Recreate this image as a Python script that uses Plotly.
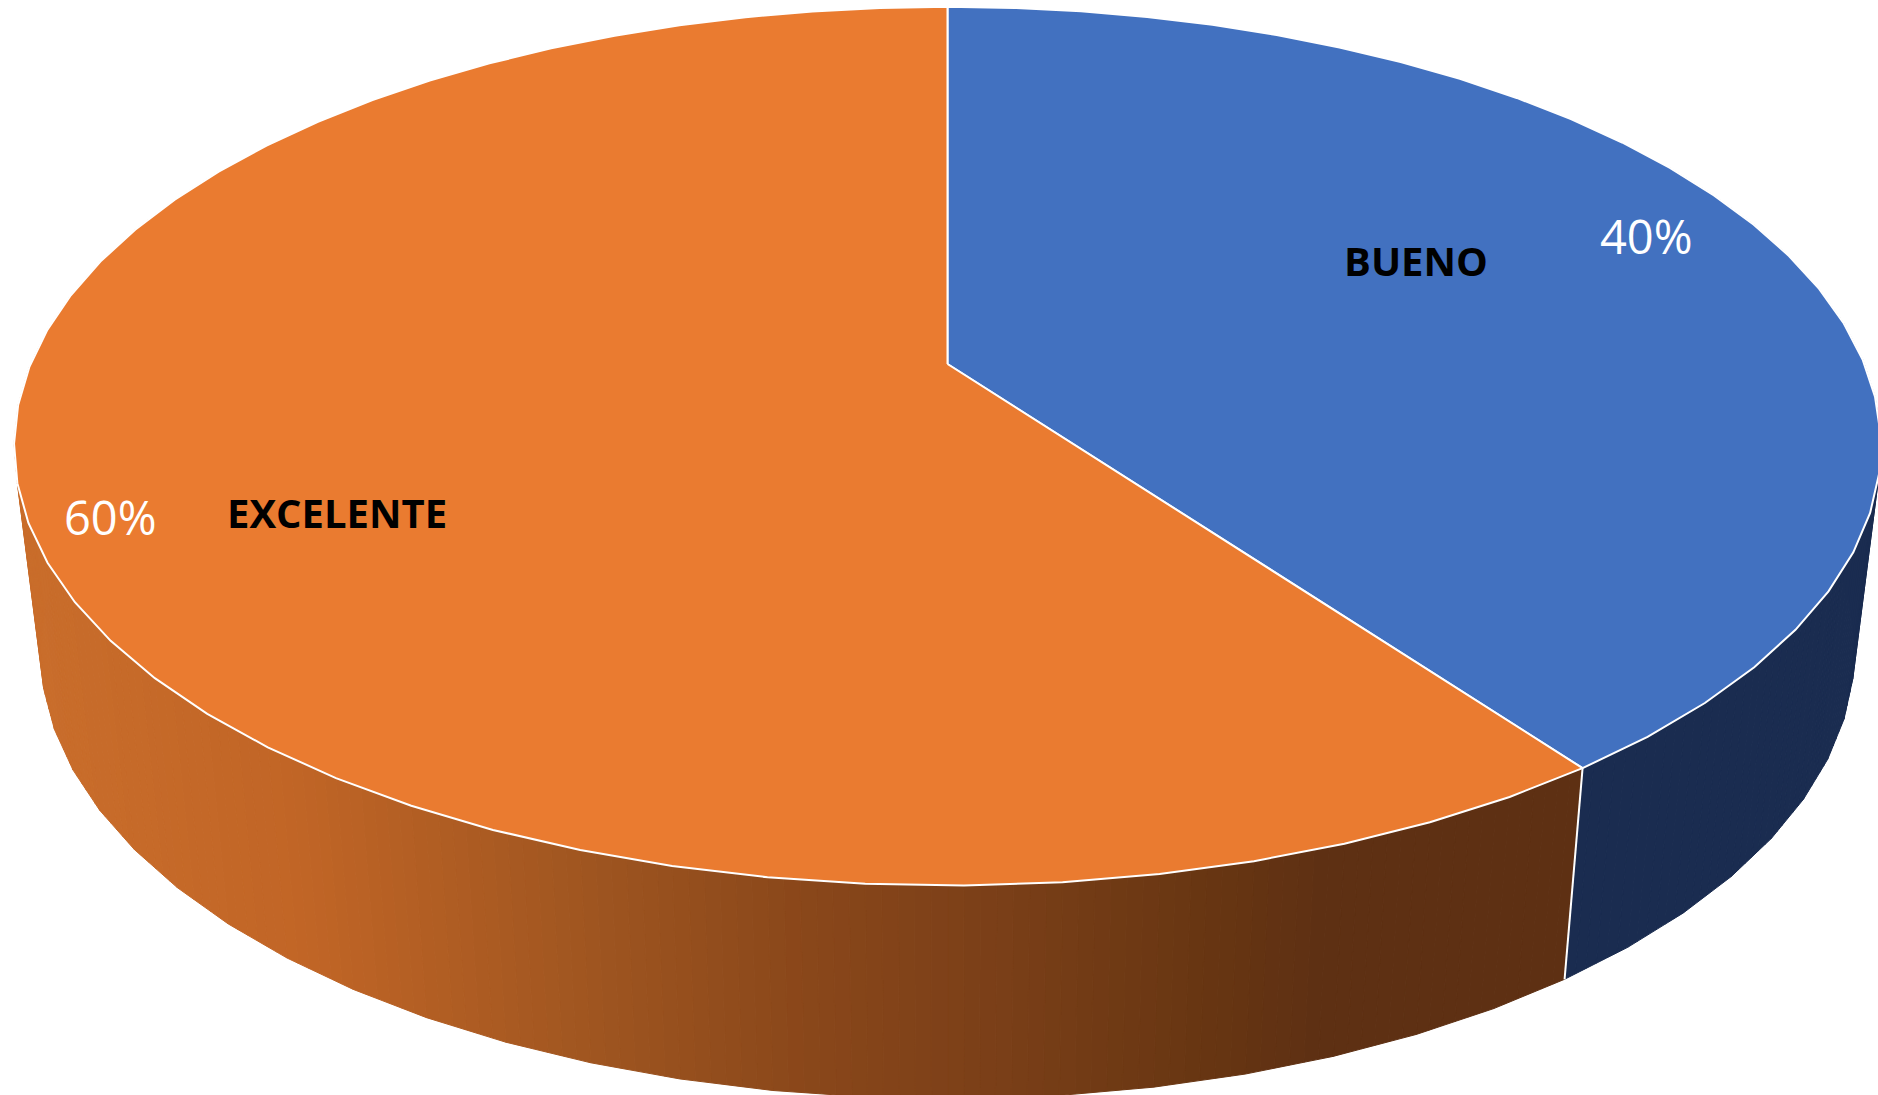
import numpy as np
import plotly.graph_objects as go

# ---- data ----
categories = ["EXCELENTE", "BUENO"]
values = [60, 40]
percent_labels = ["60%", "40%"]

# ---- style / camera ----
W, H = 1878, 1095
CX = 947.5
TOP = dict(A=917.0, B=424.0, y0=364.0)
BOT = dict(A=891.0, B=432.0, y0=567.5)
K = 0.187
FACET = 5.0
TOP_COLORS = {"EXCELENTE": "#EA7B30", "BUENO": "#4271C0"}
NAVY = "#1A2C50"
STOPS_X = [30, 300, 600, 800, 1000, 1200, 1320, 1600]
STOPS_C = [(201, 109, 43), (193, 101, 38), (158, 85, 32), (138, 71, 26), (122, 63, 24),
           (104, 54, 18), (94, 48, 19), (94, 48, 19)]
LABEL_POS = {"EXCELENTE": (337, 512.5), "BUENO": (1415.5, 260)}
PCT_POS = {"EXCELENTE": (110, 517), "BUENO": (1646, 236)}


def project(theta_deg, ring):
    t = np.radians(theta_deg)
    u, v = np.sin(t), np.cos(t)
    w = 1 + K * v
    return CX + ring["A"] * u / w, ring["y0"] - ring["B"] * v / w


def arc(a, b):
    n = max(int(round((b - a) / FACET)), 1)
    return np.linspace(a, b, n + 1)


def orange_at(x):
    return "rgb(%d,%d,%d)" % tuple(
        int(round(np.interp(x, STOPS_X, [c[i] for c in STOPS_C]))) for i in range(3))


fig = go.Figure()

# slices are laid out clockwise from 12 o'clock: BUENO first, then EXCELENTE
total = sum(values)
bueno_sweep = 360.0 * values[categories.index("BUENO")] / total
spans = {"BUENO": (0.0, bueno_sweep), "EXCELENTE": (bueno_sweep, 360.0)}

# ---- side wall ----
SUB = 6
for cat, (a0, a1) in spans.items():
    th = arc(a0, a1)
    for t0, t1 in zip(th[:-1], th[1:]):
        mid = (t0 + t1) / 2
        if 60 < mid < 300:
            x0t, y0t = project(t0, TOP); x1t, y1t = project(t1, TOP)
            x0b, y0b = project(t0, BOT); x1b, y1b = project(t1, BOT)
            for i in range(SUB):
                f0, f1 = i / SUB, (i + 1) / SUB
                xs = [x0t + (x1t - x0t) * f0, x0t + (x1t - x0t) * f1,
                      x0b + (x1b - x0b) * f1, x0b + (x1b - x0b) * f0]
                ys = [y0t + (y1t - y0t) * f0, y0t + (y1t - y0t) * f1,
                      y0b + (y1b - y0b) * f1, y0b + (y1b - y0b) * f0]
                col = NAVY if cat == "BUENO" else orange_at(np.mean(xs))
                fig.add_trace(go.Scatter(x=xs + xs[:1], y=ys + ys[:1], mode="lines", fill="toself",
                                         fillcolor=col, line=dict(color=col, width=1),
                                         hoverinfo="skip", showlegend=False))

# seam between the two slices on the wall
sx, sy = zip(project(bueno_sweep, TOP), project(bueno_sweep, BOT))
fig.add_trace(go.Scatter(x=list(sx), y=list(sy), mode="lines", line=dict(color="white", width=2),
                         hoverinfo="skip", showlegend=False))

# ---- top face ----
for cat, (a0, a1) in spans.items():
    th = arc(a0, a1)
    px, py = project(th, TOP)
    ax, ay = CX, TOP["y0"]
    fig.add_trace(go.Scatter(x=[ax] + list(px) + [ax], y=[ay] + list(py) + [ay], mode="lines",
                             fill="toself", fillcolor=TOP_COLORS[cat],
                             line=dict(color="white", width=2),
                             name=cat, hoverinfo="skip", showlegend=False))

# ---- text ----
for cat, pct in zip(categories, percent_labels):
    lx, ly = LABEL_POS[cat]
    fig.add_annotation(x=lx, y=ly, text="<b>%s</b>" % cat, showarrow=False,
                       font=dict(family="Open Sans", size=40, color="black"))
    qx, qy = PCT_POS[cat]
    fig.add_annotation(x=qx, y=qy, text=pct, showarrow=False,
                       font=dict(family="Open Sans", size=47, color="white"))

fig.update_layout(
    width=W, height=H, margin=dict(l=0, r=0, t=0, b=0),
    paper_bgcolor="white", plot_bgcolor="white", showlegend=False,
    xaxis=dict(range=[0, W], visible=False, fixedrange=True),
    yaxis=dict(range=[H, 0], visible=False, fixedrange=True),
)

fig.write_html("out.html", config={"displayModeBar": False},
               post_script="document.body.style.margin='0';document.documentElement.style.overflow='hidden';")
